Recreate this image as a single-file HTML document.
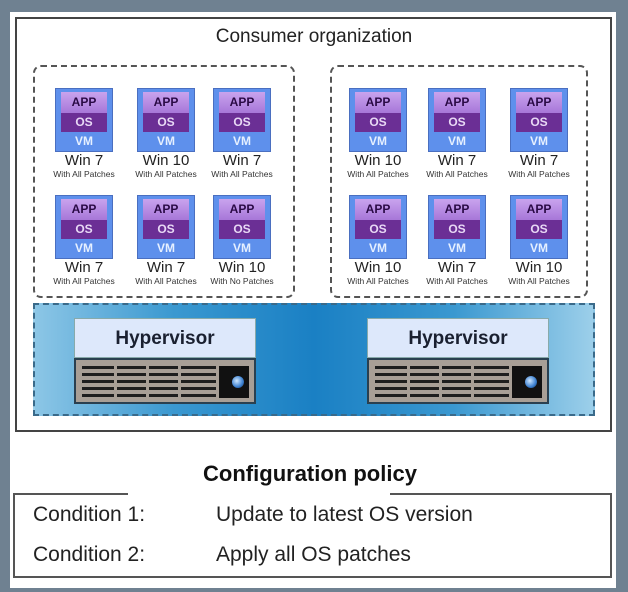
<!DOCTYPE html>
<html><head><meta charset="utf-8"><style>
*{margin:0;padding:0;box-sizing:border-box}
body{width:628px;height:592px;background:#6f8191;position:relative;overflow:hidden;font-family:"Liberation Sans",sans-serif}
.abs{position:absolute}
.vm{position:absolute;width:58px;height:64px;background:#5e90ec;border:1px solid #4a6fc0}
.vm .app{position:absolute;left:5px;top:3px;width:46px;height:21px;background:linear-gradient(#c9a3ee,#a777d8);color:#2a0a45;font-weight:bold;font-size:12px;text-align:center;line-height:21px}
.vm .os{position:absolute;left:5px;top:24px;width:46px;height:19px;background:#6b2f95;color:#e8d8f5;font-weight:bold;font-size:12px;text-align:center;line-height:19px}
.vm .v{position:absolute;left:0;top:43px;width:56px;height:19px;color:#e6f0ff;font-weight:bold;font-size:12px;text-align:center;line-height:19px}
.lbl{position:absolute;width:90px;text-align:center;color:#222}
.lbl .a{font-size:15px;line-height:16px}
.lbl .b{font-size:8.5px;line-height:11px;color:#333}
.hv{position:absolute;width:182px;height:86px}
.hv .t{position:absolute;left:0;top:0;width:182px;height:40px;background:#dde8fb;border:1px solid #8aa;font-weight:bold;font-size:19px;color:#1a2030;text-align:center;line-height:40px}
.hv .s{position:absolute;left:0;top:40px;width:182px;height:46px;background:#a89f96;border:2px solid #2a4050}
.hv .g{position:absolute;left:6px;top:6px;width:134px;height:32px;background:repeating-linear-gradient(#1e1e1e 0 3px,transparent 3px 7px)}
.hv .gc{position:absolute;top:6px;width:3px;height:32px;background:#a89f96}
.hv .d{position:absolute;left:143px;top:6px;width:30px;height:32px;background:#111}
.hv .d i{position:absolute;left:13px;top:10px;width:12px;height:12px;border-radius:50%;background:radial-gradient(circle at 40% 40%,#cfe8ff,#3a7fd0 60%,#1a3050)}
</style></head><body>
<div class="abs" style="left:10px;top:12px;width:606px;height:576px;background:#fff"></div>
<div class="abs" style="left:15px;top:17px;width:597px;height:415px;border:2px solid #444"></div>
<div class="abs" style="left:0;top:26px;width:628px;text-align:center;font-size:19px;color:#222">Consumer organization</div>
<div class="abs" style="left:33px;top:65px;width:262px;height:233px;border:2px dashed #555;border-radius:8px"></div>
<div class="abs" style="left:330px;top:65px;width:258px;height:233px;border:2px dashed #555;border-radius:8px"></div>
<div class="abs" style="left:33px;top:303px;width:562px;height:113px;border:2px dashed #3a6a8a;background:linear-gradient(90deg,#8cc6e6 0%,#3a98d0 25%,#1a80c4 50%,#3a98d0 75%,#9ccfea 100%)"></div>

<div class="vm" style="left:55px;top:88px"><div class="app">APP</div><div class="os">OS</div><div class="v">VM</div></div>
<div class="vm" style="left:137px;top:88px"><div class="app">APP</div><div class="os">OS</div><div class="v">VM</div></div>
<div class="vm" style="left:213px;top:88px"><div class="app">APP</div><div class="os">OS</div><div class="v">VM</div></div>
<div class="vm" style="left:55px;top:195px"><div class="app">APP</div><div class="os">OS</div><div class="v">VM</div></div>
<div class="vm" style="left:137px;top:195px"><div class="app">APP</div><div class="os">OS</div><div class="v">VM</div></div>
<div class="vm" style="left:213px;top:195px"><div class="app">APP</div><div class="os">OS</div><div class="v">VM</div></div>
<div class="vm" style="left:349px;top:88px"><div class="app">APP</div><div class="os">OS</div><div class="v">VM</div></div>
<div class="vm" style="left:428px;top:88px"><div class="app">APP</div><div class="os">OS</div><div class="v">VM</div></div>
<div class="vm" style="left:510px;top:88px"><div class="app">APP</div><div class="os">OS</div><div class="v">VM</div></div>
<div class="vm" style="left:349px;top:195px"><div class="app">APP</div><div class="os">OS</div><div class="v">VM</div></div>
<div class="vm" style="left:428px;top:195px"><div class="app">APP</div><div class="os">OS</div><div class="v">VM</div></div>
<div class="vm" style="left:510px;top:195px"><div class="app">APP</div><div class="os">OS</div><div class="v">VM</div></div>

<div class="lbl" style="left:39px;top:153px"><div class="a">Win 7</div><div class="b">With All Patches</div></div>
<div class="lbl" style="left:121px;top:153px"><div class="a">Win 10</div><div class="b">With All Patches</div></div>
<div class="lbl" style="left:197px;top:153px"><div class="a">Win 7</div><div class="b">With All Patches</div></div>
<div class="lbl" style="left:39px;top:260px"><div class="a">Win 7</div><div class="b">With All Patches</div></div>
<div class="lbl" style="left:121px;top:260px"><div class="a">Win 7</div><div class="b">With All Patches</div></div>
<div class="lbl" style="left:197px;top:260px"><div class="a">Win 10</div><div class="b">With No Patches</div></div>
<div class="lbl" style="left:333px;top:153px"><div class="a">Win 10</div><div class="b">With All Patches</div></div>
<div class="lbl" style="left:412px;top:153px"><div class="a">Win 7</div><div class="b">With All Patches</div></div>
<div class="lbl" style="left:494px;top:153px"><div class="a">Win 7</div><div class="b">With All Patches</div></div>
<div class="lbl" style="left:333px;top:260px"><div class="a">Win 10</div><div class="b">With All Patches</div></div>
<div class="lbl" style="left:412px;top:260px"><div class="a">Win 7</div><div class="b">With All Patches</div></div>
<div class="lbl" style="left:494px;top:260px"><div class="a">Win 10</div><div class="b">With All Patches</div></div>

<div class="hv" style="left:74px;top:318px"><div class="t">Hypervisor</div><div class="s"><div class="g"></div><div class="gc" style="left:38px"></div><div class="gc" style="left:70px"></div><div class="gc" style="left:102px"></div><div class="d"><i></i></div></div></div>
<div class="hv" style="left:367px;top:318px"><div class="t">Hypervisor</div><div class="s"><div class="g"></div><div class="gc" style="left:38px"></div><div class="gc" style="left:70px"></div><div class="gc" style="left:102px"></div><div class="d"><i></i></div></div></div>

<div class="abs" style="left:13px;top:493px;width:599px;height:85px;border:2px solid #555;border-top:none"></div>
<div class="abs" style="left:13px;top:493px;width:115px;height:2px;background:#555"></div>
<div class="abs" style="left:390px;top:493px;width:222px;height:2px;background:#555"></div>
<div class="abs" style="left:0;top:461px;width:620px;text-align:center;font-weight:bold;font-size:22px;color:#111">Configuration policy</div>
<div class="abs" style="left:33px;top:503px;font-size:21px;color:#222">Condition 1:</div>
<div class="abs" style="left:216px;top:503px;font-size:21px;color:#222">Update to latest OS version</div>
<div class="abs" style="left:33px;top:543px;font-size:21px;color:#222">Condition 2:</div>
<div class="abs" style="left:216px;top:543px;font-size:21px;color:#222">Apply all OS patches</div>
</body></html>
